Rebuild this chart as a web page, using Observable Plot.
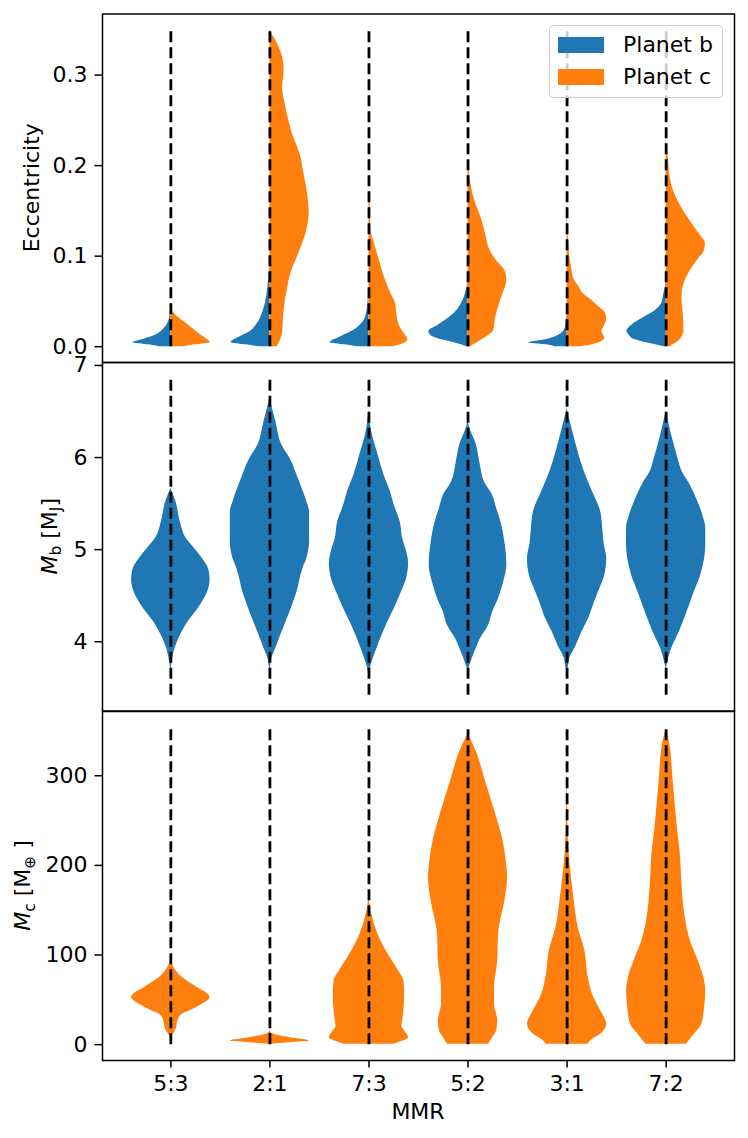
<!DOCTYPE html>
<html><head><meta charset="utf-8">
<script src="https://cdn.jsdelivr.net/npm/d3@7"></script>
<script src="https://cdn.jsdelivr.net/npm/@observablehq/plot@0.6"></script>
<style>
body{margin:0;background:white;font-family:"DejaVu Sans",sans-serif;}
#wrap{position:relative;width:748px;height:1138px;background:white;}
#wrap svg{display:block;overflow:visible;}
.legend{position:absolute;left:549px;top:25px;width:174px;height:73px;border:1.4px solid #cccccc;border-radius:4px;background:rgba(255,255,255,0.8);box-sizing:border-box;font:22px "DejaVu Sans";color:black;}
.legend .patch{position:absolute;left:8px;width:46px;height:16px;}
.legend .lab{position:absolute;left:73px;line-height:22px;white-space:nowrap;}
</style>
</head><body>
<div id="wrap"></div>
<script>
// ---------- data ----------
const categories = ["5:3", "2:1", "7:3", "5:2", "3:1", "7:2"];
const positions = [1, 2, 3, 4, 5, 6];
const seriesNames = ["Planet b", "Planet c"];

// density profiles: [value, relative density (1 = widest)] per MMR
const eccB = [
  [[0,0.3],[0.002,0.55],[0.0044,0.96],[0.008,0.7],[0.012,0.42],[0.02,0.17],[0.03,0.04],[0.04,0.01],[0.05,0]],
  [[0,0.3],[0.002,0.6],[0.0044,0.98],[0.011,0.75],[0.015,0.56],[0.026,0.31],[0.037,0.19],[0.051,0.1],[0.066,0.05],[0.081,0.02],[0.1,0]],
  [[0,0.3],[0.002,0.6],[0.0044,0.98],[0.011,0.71],[0.018,0.38],[0.026,0.17],[0.037,0.06],[0.051,0.02],[0.066,0]],
  [[0,0.03],[0.004,0.32],[0.0075,0.66],[0.013,0.95],[0.017,0.99],[0.024,0.74],[0.033,0.45],[0.04,0.28],[0.049,0.15],[0.058,0.07],[0.066,0.025],[0.072,0]],
  [[0,0.3],[0.0016,0.46],[0.004,0.97],[0.0075,0.55],[0.011,0.29],[0.015,0.13],[0.022,0.04],[0.03,0.02],[0.037,0]],
  [[0,0.05],[0.002,0.27],[0.0075,0.78],[0.013,0.94],[0.017,0.99],[0.024,0.86],[0.031,0.61],[0.04,0.27],[0.047,0.12],[0.058,0.06],[0.066,0.02],[0.073,0]]
];
const eccC = [
  [[0,0.3],[0.002,0.6],[0.0044,1.0],[0.0075,0.93],[0.013,0.76],[0.02,0.55],[0.026,0.38],[0.033,0.17],[0.037,0.08],[0.044,0.02],[0.051,0]],
  [[0,0.19],[0.015,0.32],[0.037,0.35],[0.066,0.45],[0.081,0.53],[0.103,0.73],[0.125,0.91],[0.147,0.99],[0.169,0.95],[0.191,0.86],[0.213,0.76],[0.235,0.57],[0.265,0.4],[0.287,0.32],[0.305,0.36],[0.32,0.32],[0.338,0.15],[0.347,0.03],[0.35,0]],
  [[0,0.6],[0.003,0.85],[0.008,0.98],[0.015,0.88],[0.022,0.78],[0.037,0.7],[0.048,0.67],[0.058,0.56],[0.073,0.42],[0.088,0.31],[0.103,0.21],[0.118,0.11],[0.125,0.06],[0.14,0.04],[0.162,0.03],[0.169,0.02],[0.172,0]],
  [[0,0.06],[0.0075,0.35],[0.018,0.65],[0.03,0.69],[0.044,0.77],[0.058,0.88],[0.073,0.98],[0.084,0.93],[0.095,0.72],[0.106,0.56],[0.125,0.44],[0.14,0.35],[0.154,0.23],[0.169,0.12],[0.184,0.06],[0.198,0.02],[0.206,0]],
  [[0,0.38],[0.002,0.63],[0.009,0.95],[0.017,0.88],[0.022,0.93],[0.03,1.0],[0.037,0.97],[0.044,0.8],[0.051,0.63],[0.058,0.42],[0.066,0.3],[0.073,0.19],[0.088,0.11],[0.103,0.06],[0.125,0.025],[0.14,0.012],[0.18,0]],
  [[0,0.1],[0.0075,0.35],[0.018,0.45],[0.037,0.43],[0.055,0.4],[0.069,0.45],[0.084,0.61],[0.095,0.78],[0.1066,0.97],[0.114,0.99],[0.123,0.86],[0.136,0.65],[0.147,0.48],[0.16,0.31],[0.173,0.18],[0.187,0.1],[0.206,0.06],[0.22,0.025],[0.228,0]]
];
const massB = [
  [[3.67,0],[3.78,0.03],[3.96,0.13],[4.11,0.29],[4.22,0.44],[4.31,0.6],[4.4,0.75],[4.52,0.91],[4.67,0.99],[4.78,0.96],[4.9,0.8],[5.01,0.6],[5.12,0.39],[5.3,0.24],[5.52,0.13],[5.665,0]],
  [[3.68,0],[3.71,0.01],[3.82,0.05],[3.93,0.15],[4.11,0.31],[4.34,0.52],[4.52,0.67],[4.79,0.83],[4.9,0.93],[5.09,1.0],[5.41,1.0],[5.52,0.93],[5.77,0.72],[5.98,0.52],[6.13,0.31],[6.39,0.15],[6.64,0]],
  [[3.64,0],[3.74,0.05],[3.89,0.17],[4.07,0.33],[4.22,0.48],[4.36,0.64],[4.51,0.79],[4.69,0.95],[4.85,1.0],[4.98,0.95],[5.12,0.85],[5.3,0.79],[5.48,0.64],[5.63,0.54],[5.81,0.38],[6.03,0.23],[6.28,0.07],[6.52,0]],
  [[3.68,0],[3.75,0.05],[3.93,0.21],[4.03,0.31],[4.18,0.52],[4.32,0.62],[4.47,0.77],[4.65,0.9],[4.83,0.98],[5.08,0.93],[5.3,0.83],[5.45,0.72],[5.59,0.62],[5.74,0.41],[5.92,0.31],[6.14,0.21],[6.34,0.03],[6.4,0]],
  [[3.7,0],[3.71,0.02],[3.82,0.07],[3.96,0.23],[4.11,0.38],[4.25,0.54],[4.43,0.69],[4.58,0.83],[4.72,0.95],[4.9,1.0],[5.08,0.93],[5.23,0.9],[5.41,0.85],[5.63,0.64],[5.85,0.43],[6.06,0.28],[6.32,0.12],[6.53,0]],
  [[3.7,0],[3.78,0.04],[3.93,0.14],[4.03,0.25],[4.18,0.4],[4.36,0.56],[4.54,0.71],[4.72,0.87],[4.9,0.97],[5.05,1.0],[5.23,1.0],[5.38,0.92],[5.56,0.76],[5.7,0.61],[5.85,0.4],[5.99,0.3],[6.24,0.14],[6.5,0]]
];
const massC = [
  [[8,0],[9.7,0.03],[17,0.13],[26.5,0.18],[32,0.24],[41.3,0.65],[52.5,0.99],[65.6,0.6],[75,0.29],[86,0.08],[95.4,0]],
  [[0.3,0],[2.2,0.5],[4.1,1.0],[7.8,0.52],[11.6,0.1],[15.3,0]],
  [[0.3,0.63],[2.2,0.74],[7.8,1.0],[15.3,0.9],[20.9,0.83],[26.5,0.85],[37.7,0.88],[56.3,0.9],[71.2,0.88],[82.6,0.74],[101,0.48],[123,0.23],[145.7,0.07],[164,0]],
  [[0.3,0.52],[7.8,0.62],[15.3,0.72],[26.5,0.75],[45,0.67],[63.7,0.67],[93.6,0.75],[123.4,0.77],[160.6,0.93],[186.6,1.0],[197.8,0.98],[228,0.88],[254,0.72],[291,0.46],[326.7,0.21],[346.8,0]],
  [[0.3,0.53],[4.1,0.59],[11.6,0.85],[22.8,1.0],[37.7,0.85],[56.3,0.64],[78.7,0.52],[104.7,0.45],[130.8,0.28],[160.6,0.18],[190.6,0.1],[220,0.04],[260,0.015],[317,0]],
  [[0.3,0.51],[11.6,0.71],[22.8,0.9],[41.3,0.97],[60,1.0],[75,0.95],[93.6,0.81],[116,0.61],[142,0.48],[179.2,0.4],[216.5,0.35],[235,0.3],[272,0.22],[298.3,0.17],[335.7,0.09],[352.4,0]]
];
// extent of the dashed guide lines in each panel
const eccRule = [0, 0.35];
const massBRule = [3.42, 6.86];
const massCRule = [0, 354];
const eccTicks = [0, 0.1, 0.2, 0.3];
const massBTicks = [4, 5, 6, 7];
const massCTicks = [0, 100, 200, 300];

// ---------- styling ----------
const colorB = "#1f77b4", colorC = "#ff7f0e";
const halfMax = 0.4;           // widest half-violin, in category units
const xDomain = [0.31, 6.69];
const FONT = "DejaVu Sans";

function rows(profiles) {
  return profiles.flatMap((p, i) => p.map(([v, d]) => ({cat: categories[i], pos: positions[i], v, d})));
}
function guide(range) {
  return Plot.ruleX(positions, {x: d => d, y1: range[0], y2: range[1], stroke: "black", strokeWidth: 2.8, strokeDasharray: "11,5"});
}
function violinFull(profiles, fill) {
  return Plot.areaX(rows(profiles), {y: "v", x1: r => r.pos - r.d * halfMax, x2: r => r.pos + r.d * halfMax, z: "cat", fill, curve: "monotone-y"});
}
function violinHalf(profiles, fill, side) {
  return side < 0
    ? Plot.areaX(rows(profiles), {y: "v", x1: r => r.pos - r.d * halfMax, x2: r => r.pos, z: "cat", fill, curve: "monotone-y"})
    : Plot.areaX(rows(profiles), {y: "v", x1: r => r.pos, x2: r => r.pos + r.d * halfMax, z: "cat", fill, curve: "monotone-y"});
}
function yRange(r) { const m = (r[1] - r[0]) * 0.05; return [r[0] - m, r[1] + m]; }

function panel({height, marginTop, marginBottom, range, ticks, fmt, marks, xAxis}) {
  return Plot.plot({
    width: 748, height, marginLeft: 102, marginRight: 14, marginTop, marginBottom,
    style: {fontFamily: FONT, fontSize: "22px", background: "transparent", color: "black", overflow: "visible"},
    x: {domain: xDomain, axis: null},
    y: {domain: yRange(range), axis: null},
    marks: [
      ...marks,
      guide(range),
      Plot.frame({stroke: "black", strokeWidth: 1.5}),
      Plot.axisY(ticks, {tickSize: 7.5, tickPadding: 7.5, tickFormat: fmt, label: null, strokeWidth: 1.5, fontSize: 22}),
      ...(xAxis ? [Plot.axisX(positions, {tickSize: 7.5, tickPadding: 7.5, tickFormat: d => categories[positions.indexOf(d)], label: null, strokeWidth: 1.5, fontSize: 22})] : [])
    ]
  });
}

const wrap = document.getElementById("wrap");
const p1 = panel({height: 362, marginTop: 13.5, marginBottom: 0, range: eccRule, ticks: eccTicks, fmt: d3.format(".1f"),
  marks: [violinHalf(eccB, colorB, -1), violinHalf(eccC, colorC, 1)]});
const p2 = panel({height: 348.5, marginTop: 0, marginBottom: 0, range: massBRule, ticks: massBTicks, fmt: d3.format("d"),
  marks: [violinFull(massB, colorB)]});
const p3 = panel({height: 427.5, marginTop: 0, marginBottom: 78.5, range: massCRule, ticks: massCTicks, fmt: d3.format("d"),
  marks: [violinFull(massC, colorC)], xAxis: true});
wrap.append(p1, p2, p3);

// axis labels (with sub-scripts)
function yLabel(svg, x, y, parts) {
  const t = d3.select(svg).append("text")
    .attr("transform", `translate(${x},${y}) rotate(-90)`)
    .attr("text-anchor", "middle").attr("font-family", FONT).attr("font-size", 22).attr("fill", "black");
  parts.forEach(p => {
    const s = t.append("tspan").text(p.t);
    if (p.i) s.attr("font-style", "italic");
    if (p.dy) s.attr("dy", p.dy);
    if (p.fs) s.attr("font-size", p.fs);
  });
}
yLabel(p1, 38.5, 13.5 + 174.25, [{t: "Eccentricity"}]);
yLabel(p2, 56.5, 174.25, [{t: "M", i: true}, {t: "b", fs: 15.4, dy: 4.5}, {t: " [M", dy: -4.5}, {t: "J", fs: 15.4, dy: 4.5}, {t: "]", dy: -4.5}]);
yLabel(p3, 30, 174.5, [{t: "M", i: true}, {t: "c", fs: 15.4, dy: 4.5}, {t: " [M", dy: -4.5}, {t: "⊕", fs: 15.4, dy: 4.5}, {t: " ]", dy: -4.5}]);
d3.select(p3).append("text").attr("x", 418).attr("y", 407.5).attr("text-anchor", "middle")
  .attr("font-family", FONT).attr("font-size", 22).attr("fill", "black").text("MMR");

// legend
const lg = document.createElement("div");
lg.className = "legend";
[[colorB, 10.5, seriesNames[0]], [colorC, 43, seriesNames[1]]].forEach(([c, top, name]) => {
  const p = document.createElement("div"); p.className = "patch"; p.style.background = c; p.style.top = top + "px"; lg.appendChild(p);
  const l = document.createElement("div"); l.className = "lab"; l.textContent = name; l.style.top = (top - 3) + "px"; lg.appendChild(l);
});
wrap.appendChild(lg);
</script>
</body></html>
